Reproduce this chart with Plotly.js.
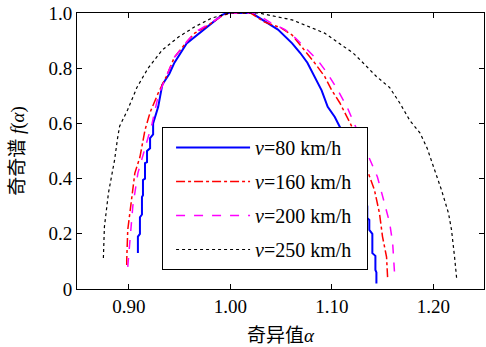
<!DOCTYPE html>
<html><head><meta charset="utf-8">
<script src="https://cdn.plot.ly/plotly-3.0.1.min.js"></script>
<style>html,body{margin:0;padding:0;background:#fff}#c{width:486px;height:347px}</style>
</head><body><div id="c"></div>
<script>
const names = ['<i>v</i>=80 km/h','<i>v</i>=160 km/h','<i>v</i>=200 km/h','<i>v</i>=250 km/h'];
const x80 = [0.909,0.909,0.911,0.911,0.913,0.913,0.914,0.914,0.916,0.916,0.918,0.918,0.921,0.921,0.924,0.924,0.929,0.933,0.940,0.945,0.957,0.965,0.978,0.992,0.997,1.010,1.022,1.024,1.037,1.047,1.061,1.069,1.076,1.083,1.090,1.096,1.103,1.108,1.118,1.126,1.132,1.135,1.135,1.137,1.137,1.140,1.140,1.143,1.143,1.144,1.144];
const y80 = [0.13,0.19,0.20,0.26,0.27,0.333,0.34,0.395,0.40,0.456,0.46,0.50,0.51,0.547,0.56,0.60,0.66,0.74,0.78,0.82,0.89,0.913,0.95,0.993,1.0,1.0,1.0,0.993,0.964,0.94,0.89,0.855,0.82,0.77,0.72,0.66,0.623,0.587,0.51,0.42,0.34,0.30,0.257,0.25,0.214,0.20,0.13,0.12,0.069,0.06,0.02];
const x160 = [0.898,0.898,0.899,0.903,0.906,0.911,0.916,0.921,0.929,0.937,0.945,0.957,0.965,0.978,0.992,1.000,1.020,1.034,1.050,1.061,1.073,1.083,1.093,1.100,1.108,1.113,1.120,1.128,1.135,1.142,1.147,1.150,1.154,1.155];
const y160 = [0.087,0.105,0.214,0.333,0.42,0.478,0.576,0.64,0.71,0.77,0.84,0.895,0.927,0.955,0.99,1.0,1.0,0.967,0.946,0.92,0.866,0.82,0.77,0.72,0.674,0.64,0.587,0.51,0.43,0.36,0.275,0.19,0.116,0.043];
const x200 = [0.899,0.901,0.904,0.909,0.918,0.923,0.929,0.937,0.945,0.957,0.965,0.978,0.992,1.000,1.025,1.040,1.054,1.064,1.076,1.086,1.096,1.106,1.115,1.121,1.128,1.135,1.145,1.152,1.157,1.160,1.162];
const y200 = [0.08,0.178,0.30,0.42,0.53,0.60,0.70,0.77,0.84,0.895,0.93,0.958,0.99,1.0,1.0,0.964,0.94,0.91,0.866,0.83,0.78,0.72,0.66,0.61,0.55,0.49,0.406,0.31,0.24,0.167,0.05];
const x250 = [0.875,0.876,0.880,0.886,0.889,0.891,0.899,0.908,0.919,0.933,0.949,0.965,0.982,1.000,1.028,1.061,1.093,1.108,1.121,1.128,1.144,1.157,1.167,1.177,1.187,1.194,1.199,1.208,1.215,1.218,1.221,1.223];
const y250 = [0.112,0.225,0.348,0.467,0.547,0.590,0.65,0.73,0.80,0.866,0.913,0.95,0.982,1.0,1.0,0.975,0.927,0.89,0.855,0.83,0.77,0.73,0.674,0.61,0.565,0.51,0.456,0.36,0.275,0.214,0.116,0.04];
const xTickVals = [0.90,1.00,1.10,1.20];
const xTickText = ['0.90','1.00','1.10','1.20'];
const yTickVals = [0,0.2,0.4,0.6,0.8,1.0];
const yTickText = ['0','0.2','0.4','0.6','0.8','1.0'];

const F = '"Liberation Serif", "Noto Sans CJK SC", serif';
const pad = '\u00a0\u00a0';
const traces = [
  {x:x80,y:y80,name:names[0]+pad,legendgroup:'a',line:{color:'#0000ff',width:2,dash:'solid'}},
  {x:x160,y:y160,name:names[1]+pad,legendgroup:'b',line:{color:'#ff0000',width:1.5,dash:'dashdot'}},
  {x:x200,y:y200,name:names[2]+pad,legendgroup:'c',line:{color:'#ff00ff',width:1.5,dash:'dash'}},
  {x:x250,y:y250,name:names[3]+pad,legendgroup:'d',line:{color:'#000000',width:1.2,dash:'dot'}}
].map(t=>Object.assign({type:'scatter',mode:'lines'},t));

const ax = {showline:true,linecolor:'#000',linewidth:1,mirror:'ticks',ticks:'inside',ticklen:5,tickcolor:'#000',showgrid:false,zeroline:false,tickfont:{family:F,size:19,color:'#000'}};
const layout = {
  width:486,height:347,
  margin:{l:77,r:2,t:13,b:58},
  paper_bgcolor:'#fff',plot_bgcolor:'#fff',
  font:{family:F,color:'#000'},
  xaxis:Object.assign({},ax,{range:[0.849,1.250],tickvals:xTickVals,ticktext:xTickText,
    title:{text:'奇异值<i>α</i>',font:{family:F,size:19,color:'#000'},standoff:12}}),
  yaxis:Object.assign({},ax,{range:[0,1.0],tickvals:yTickVals,ticktext:yTickText,
    title:{text:'奇奇谱 <i>f</i>(<i>α</i>)',font:{family:F,size:19,color:'#000'},standoff:18}}),
  showlegend:true,
  legend:{x:0.209,y:0.587,xanchor:'left',yanchor:'top',bgcolor:'#fff',bordercolor:'#000',borderwidth:1,
    font:{family:F,size:20,color:'#000'},traceorder:'grouped',tracegroupgap:5,itemwidth:74,indentation:8}
};
Plotly.newPlot('c',traces,layout,{displayModeBar:false,staticPlot:true});
</script></body></html>
